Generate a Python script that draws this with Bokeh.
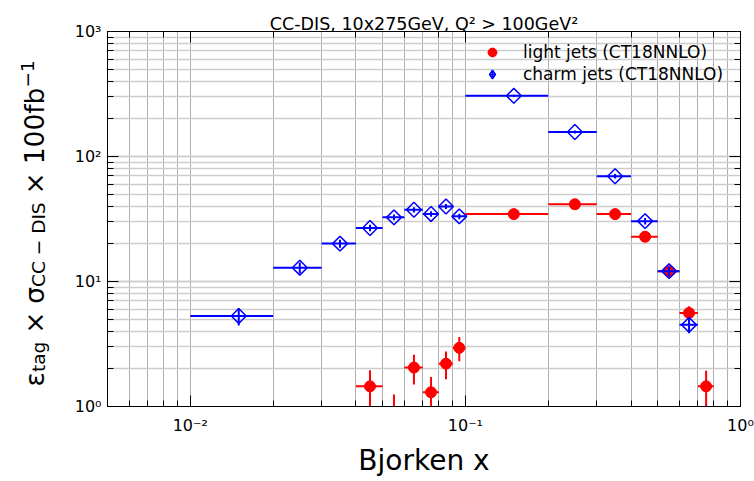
import math
from bokeh.plotting import figure
from bokeh.layouts import row
from bokeh.models import (LogAxis, LogTicker, CustomJSTickFormatter, Label, Legend,
                          LegendItem, ColumnDataSource, Range1d)
from bokeh.embed import file_html
from bokeh.resources import INLINE

# ---------------- data ----------------
light_x = [0.045, 0.055, 0.065, 0.075, 0.085, 0.095, 0.15, 0.25, 0.35, 0.45, 0.55, 0.65, 0.75]
light_lo = [0.04, 0.05, 0.06, 0.07, 0.08, 0.09, 0.1, 0.2, 0.3, 0.4, 0.5, 0.6, 0.7]
light_hi = [0.05, 0.06, 0.07, 0.08, 0.09, 0.1, 0.2, 0.3, 0.4, 0.5, 0.6, 0.7, 0.8]
light_y = [1.45, 0.75, 2.05, 1.3, 2.2, 2.95, 34.6, 41.5, 34.6, 22.8, 12.1, 5.6, 1.45]
light_err = [0.5, 0.5, 0.55, 0.42, 0.55, 0.65, 2.0, 2.2, 2.0, 1.6, 1.2, 0.75, 0.48]

charm_x = [0.015, 0.025, 0.035, 0.045, 0.055, 0.065, 0.075, 0.085, 0.095,
           0.15, 0.25, 0.35, 0.45, 0.55, 0.65, 0.75]
charm_lo = [0.01, 0.02, 0.03, 0.04, 0.05, 0.06, 0.07, 0.08, 0.09,
            0.1, 0.2, 0.3, 0.4, 0.5, 0.6, 0.7]
charm_hi = [0.02, 0.03, 0.04, 0.05, 0.06, 0.07, 0.08, 0.09, 0.1,
            0.2, 0.3, 0.4, 0.5, 0.6, 0.7, 0.8]
charm_y = [5.3, 12.9, 20.1, 26.8, 32.6, 37.5, 34.7, 39.8, 33.2,
           306.0, 157.0, 69.5, 30.4, 12.1, 4.5, 0.55]
charm_err = [0.85, 1.3, 1.5, 1.6, 1.7, 1.8, 1.7, 1.8, 1.7,
             6.0, 4.5, 2.8, 1.8, 1.1, 0.65, 0.47]

title_text = "CC-DIS, 10x275GeV, Q² > 100GeV²"
xlabel_text = "Bjorken x"
legend_labels = ["light jets (CT18NNLO)", "charm jets (CT18NNLO)"]
# y label pieces: (text, role) ; role: main / sub / sup / bin (binary operator)
ylabel_pieces = [("ε", "main"), ("tag", "sub"), ("×", "bin"), ("σ", "main"),
                 ("CC − DIS", "sub"), ("×", "bin"), ("100fb", "main"), ("−1", "sup")]

X_MIN, X_MAX = 0.005, 1.0
Y_MIN, Y_MAX = 1.0, 1000.0

FONT = "DejaVu Sans"
RED = "#ff0000"
BLUE = "#0000ff"

# ---------------- layout ----------------
W, H = 754, 481
LW = 60                       # width of the strip holding the y-axis title
BL, BR, BT, BB = 107 - LW, 14, 31, 75

p = figure(width=W - LW, height=H, x_axis_type="log", y_axis_type="log",
           x_range=Range1d(X_MIN, X_MAX), y_range=Range1d(Y_MIN, Y_MAX),
           output_backend="svg", toolbar_location=None,
           min_border_left=BL, min_border_right=BR,
           min_border_top=BT, min_border_bottom=BB)
p.background_fill_color = "white"
p.border_fill_color = "white"
p.outline_line_color = "black"
p.outline_line_width = 1

p.title.text = title_text
p.title.align = "center"
p.title.text_font = FONT
p.title.text_font_size = "17.5px"
p.title.text_font_style = "normal"
p.title.text_color = "black"
p.title.standoff = -4

sup_fmt = CustomJSTickFormatter(code="""
const e = Math.round(Math.log10(tick));
const m = {"-":"\u207b","0":"\u2070","1":"\u00b9","2":"\u00b2","3":"\u00b3",
           "4":"\u2074","5":"\u2075","6":"\u2076","7":"\u2077","8":"\u2078","9":"\u2079"};
return "10" + String(e).split("").map(c => m[c]).join("");
""")
blank_fmt = CustomJSTickFormatter(code="return '';")

p.add_layout(LogAxis(ticker=LogTicker()), "above")
p.add_layout(LogAxis(ticker=LogTicker()), "right")

for ax in p.xaxis + p.yaxis:
    ax.major_tick_in = 11
    ax.major_tick_out = 0
    ax.minor_tick_in = 6
    ax.minor_tick_out = 0
    ax.axis_line_color = "black"
    ax.major_tick_line_color = "black"
    ax.minor_tick_line_color = "black"
    ax.major_label_text_font = FONT
    ax.major_label_text_font_size = "16px"
    ax.major_label_text_color = "black"
    ax.major_label_standoff = 6

bottom = p.below[0]
bottom.formatter = sup_fmt
bottom.major_label_standoff = 9
p.left[0].formatter = sup_fmt
for ax in (p.above[0], p.right[0]):
    ax.formatter = blank_fmt
    ax.major_label_text_font_size = "0px"
    ax.major_label_standoff = 0

bottom.axis_label = xlabel_text
bottom.axis_label_text_font = FONT
bottom.axis_label_text_font_size = "28px"
bottom.axis_label_text_font_style = "normal"
bottom.axis_label_text_color = "black"
bottom.axis_label_standoff = 6

p.xgrid.grid_line_color = "#b0b0b0"
p.xgrid.minor_grid_line_color = "#b0b0b0"
p.xgrid.grid_line_width = 1
p.xgrid.minor_grid_line_width = 1
p.ygrid.grid_line_color = "#cdcdcd"
p.ygrid.minor_grid_line_color = "#cdcdcd"
p.ygrid.grid_line_width = 1.6
p.ygrid.minor_grid_line_width = 1.6

# ---------------- data glyphs ----------------
ls = ColumnDataSource(dict(x=light_x, lo=light_lo, hi=light_hi, y=light_y,
                           ylo=[v - e for v, e in zip(light_y, light_err)],
                           yhi=[v + e for v, e in zip(light_y, light_err)]))
cs = ColumnDataSource(dict(x=charm_x, lo=charm_lo, hi=charm_hi, y=charm_y,
                           ylo=[v - e for v, e in zip(charm_y, charm_err)],
                           yhi=[v + e for v, e in zip(charm_y, charm_err)]))

p.segment(x0="lo", x1="hi", y0="y", y1="y", source=ls, line_color=RED, line_width=2)
p.segment(x0="x", x1="x", y0="ylo", y1="yhi", source=ls, line_color=RED, line_width=2)
r_red_cross = p.scatter("x", "y", source=ls, marker="cross", size=0,
                        line_color=RED, line_width=2)
r_red = p.scatter("x", "y", source=ls, marker="circle", size=11,
                  fill_color=RED, line_color=RED)

p.segment(x0="lo", x1="hi", y0="y", y1="y", source=cs, line_color=BLUE, line_width=2)
p.segment(x0="x", x1="x", y0="ylo", y1="yhi", source=cs, line_color=BLUE, line_width=2)
p.scatter("x", "y", source=cs, marker="square", angle=math.pi / 4, size=10.5,
          fill_color=None, line_color=BLUE, line_width=1.5)
r_blue_leg = p.scatter("x", "y", source=cs, marker="diamond_cross", size=0,
                       fill_color=None, line_color=BLUE, line_width=1.5)

legend = Legend(items=[LegendItem(label=legend_labels[0], renderers=[r_red_cross, r_red]),
                       LegendItem(label=legend_labels[1], renderers=[r_blue_leg])],
                location="top_right", border_line_color=None, background_fill_alpha=0,
                label_text_font=FONT, label_text_font_size="17px",
                label_text_color="black",
                glyph_width=28, glyph_height=22, spacing=0, label_standoff=17,
                label_width=207, padding=10, margin=10)
p.add_layout(legend)

# ---------------- y-axis title strip ----------------
# its frame spans the same rows as the main frame, so text positions are in pixels
lab = figure(width=LW, height=H, x_range=Range1d(0, LW), y_range=Range1d(BB, H - BT),
             output_backend="svg", toolbar_location=None, title=None,
             min_border_left=0, min_border_right=0,
             min_border_top=BT, min_border_bottom=BB,
             x_axis_location=None, y_axis_location=None)
lab.outline_line_color = None
lab.background_fill_color = "white"
lab.border_fill_color = "white"
lab.grid.visible = False

EM = {"ε": 0.544, "t": 0.392, "a": 0.613, "g": 0.635, " ": 0.318, "×": 0.838,
      "σ": 0.63, "C": 0.698, "−": 0.838, "D": 0.770, "I": 0.295, "S": 0.635,
      "1": 0.636, "0": 0.636, "f": 0.352, "b": 0.635}
SIZE = {"main": 26.5, "bin": 26.5, "sub": 18.5, "sup": 18.5}
SHIFT = {"main": 0, "bin": 0, "sub": 4, "sup": -7}
GAP = 0.3            # em of space on each side of a binary operator
ycur = 386          # pixel row where the rotated text starts (its bottom)
base_x = 34         # pixel column of the main baseline
for txt, role in ylabel_pieces:
    fs = SIZE[role]
    if role == "bin":
        ycur -= GAP * fs
    lab.add_layout(Label(x=base_x + SHIFT[role], y=H - ycur, text=txt,
                         angle=math.pi / 2, text_align="left", text_baseline="alphabetic",
                         text_font=FONT, text_font_size=f"{fs}px", text_color="black"))
    ycur -= sum(EM.get(c, 0.6) for c in txt) * fs
    if role == "bin":
        ycur -= GAP * fs

layout = row(lab, p, spacing=0)
open("out.html", "w").write(file_html(layout, INLINE))
